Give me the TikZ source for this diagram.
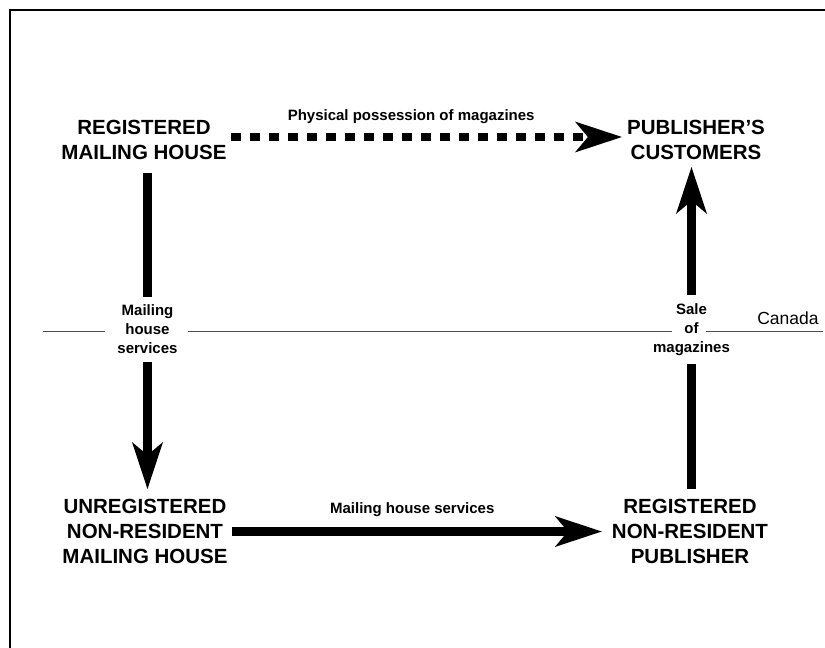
\documentclass[tikz,border=0pt]{standalone}
\usepackage{fontspec}
\setmainfont{Liberation Sans}
\usetikzlibrary{positioning}
\usetikzlibrary{arrows.meta}

\tikzset{
  bigbox/.style={align=center, inner sep=4pt, font=\fontsize{20.5}{25}\selectfont\bfseries},
  smalllbl/.style={align=center, font=\fontsize{15}{19}\selectfont\bfseries},
  fatarrow/.style={line width=9pt, -{Stealth[length=47pt,width=31pt,inset=13pt,line width=0pt]}},
  dotarrow/.style={fatarrow, line width=8pt, dash pattern=on 10pt off 9pt},
  border/.style={line width=2pt},
  canline/.style={black!70, line width=1pt}
}

\begin{document}
\begin{tikzpicture}[x=1pt, y=-1pt]
\useasboundingbox (0,0) rectangle (825,648);
\draw[border] (10,648) |- (825,10);

% boxes
\node[bigbox] (rmh) at (144,140) {REGISTERED\\MAILING HOUSE};
\node[bigbox] (pc) at (696,140) {PUBLISHER’S\\CUSTOMERS};
\node[bigbox] (unmh) at (145,531.5) {UNREGISTERED\\NON-RESIDENT\\MAILING HOUSE};
\node[bigbox] (rnrp) at (690,531.5) {REGISTERED\\NON-RESIDENT\\PUBLISHER};

% arrows
\draw[dotarrow, shorten >=1pt] ([yshift=3pt]rmh.east) -- node[smalllbl, above=6pt, pos=0.46] (lphys) {Physical possession of magazines} ([yshift=3pt]pc.west);

\draw[fatarrow, shorten <=9pt, shorten >=6pt] ([xshift=3.5pt]rmh.south) -- node[smalllbl, fill=white, inner xsep=4pt, inner ysep=8pt] (lmhs) {Mailing\\house\\services} ([xshift=3.5pt]rmh.south |- unmh.north);

\draw[fatarrow, shorten <=6pt, shorten >=3pt] ([xshift=1.5pt]rnrp.north) -- node[smalllbl, fill=white, inner xsep=4pt, inner ysep=8pt] (lsale) {Sale\\of\\magazines} ([xshift=1.5pt]rnrp.north |- pc.south);

\draw[fatarrow, shorten >=6pt] (unmh.east) -- node[smalllbl, above=7pt, pos=0.48] (lserv) {Mailing house services} (rnrp.west);

% border line
\coordinate (canW) at (43,331);
\coordinate (canE) at (823,331);
\draw[canline] (canW) -- (105,331) (188,331) -- (672,331) (706,331) -- (canE);
\node[font=\fontsize{17.5}{20}\selectfont] (can) at (788,318.5) {Canada};

\end{tikzpicture}
\end{document}
